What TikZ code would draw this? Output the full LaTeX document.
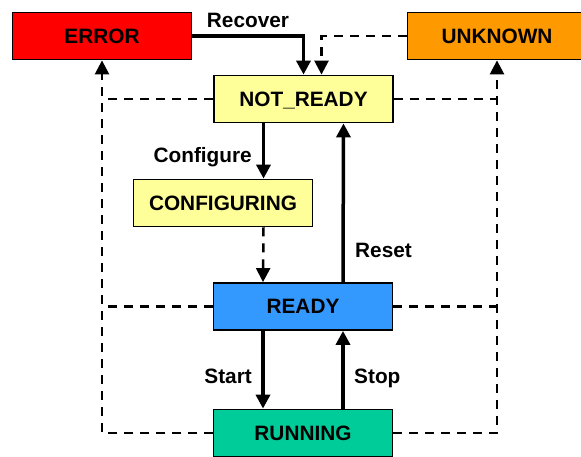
\documentclass[tikz,border=0pt]{standalone}
\usepackage{fontspec}
\setmainfont{Liberation Sans}
\usetikzlibrary{arrows.meta}
\definecolor{errred}{HTML}{FF0000}
\definecolor{unkorange}{HTML}{FF9900}
\definecolor{paleyellow}{HTML}{FFFF99}
\definecolor{readyblue}{HTML}{3399FF}
\definecolor{rungreen}{HTML}{00CC99}
\begin{document}
\begin{tikzpicture}[x=1pt,y=-1pt,
  box/.style={draw=black, line width=1.8pt, minimum width=179pt, minimum height=47pt,
    inner sep=0pt, text height=14.9pt, text depth=0pt,
    font=\fontsize{20.8}{24}\selectfont\bfseries},
  lab/.style={font=\fontsize{20.8}{24}\selectfont\bfseries, inner sep=0pt},
  sol/.style={line width=3.5pt, -{Triangle[length=14pt,width=14pt]}},
  dsh/.style={line width=2.5pt, dash pattern=on 9pt off 7pt},
  dar/.style={dsh, -{Triangle[length=14pt,width=14pt]}}]
\useasboundingbox (0,0) rectangle (581,456);
\clip (0,0) rectangle (581,456);

\node[box, fill=errred] (err) at (102,36) {ERROR};
\node[box, fill=unkorange] (unk) at (497,36) {UNKNOWN};
\node[box, fill=paleyellow] (nr) at (303.5,99) {NOT\_READY};
\node[box, fill=paleyellow] (cfg) at (223,203) {CONFIGURING};
\node[box, fill=readyblue] (rdy) at (303,306.5) {READY};
\node[box, fill=rungreen] (run) at (303,433) {RUNNING};

% dashed error / unknown paths
\draw[dar] (run.west) -| (err.south);
\draw[dsh] (nr.west) -- (nr.west -| err.south);
\draw[dsh] (rdy.west) -- (rdy.west -| err.south);
\draw[dar] (run.east) -| (unk.south);
\draw[dsh] (nr.east) -- (nr.east -| unk.south);
\draw[dsh] (rdy.east) -- (rdy.east -| unk.south);
\draw[dar] (unk.west) -| ([xshift=18pt]nr.north);

% solid transitions
\draw[sol] (err.east) -| (nr.north);
\draw[sol] ([xshift=-40pt]nr.south) -- ([xshift=-40pt]nr.south |- cfg.north);
\draw[dar] ([xshift=-40pt]nr.south |- cfg.south) -- ([xshift=-40pt]rdy.north);
\draw[sol] ([xshift=40pt]rdy.north) -- ([xshift=40pt]nr.south);
\draw[sol] ([xshift=-40pt]rdy.south) -- ([xshift=-40pt]run.north);
\draw[sol] ([xshift=40pt]run.north) -- ([xshift=40pt]rdy.south);

% labels
\node[lab, anchor=base] (lrec) at (248,27) {Recover};
\node[lab, anchor=base east] (lcfg) at (252,162) {Configure};
\node[lab, anchor=base west] (lrst) at (355,257) {Reset};
\node[lab, anchor=base east] (lsta) at (252,383) {Start};
\node[lab, anchor=base west] (lsto) at (354,383) {Stop};
\end{tikzpicture}
\end{document}
